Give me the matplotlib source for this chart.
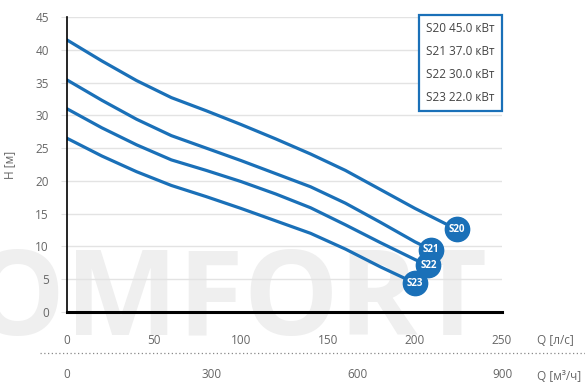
import matplotlib
matplotlib.use('Agg')
import matplotlib.pyplot as plt
from matplotlib.lines import Line2D

# Q [l/s] and H [m]
q_s20 = [0, 20, 40, 60, 80, 100, 120, 140, 160, 180, 200, 224]
h_s20 = [41.5, 38.3, 35.3, 32.7, 30.7, 28.6, 26.4, 24.1, 21.6, 18.7, 15.8, 12.6]
q_s21 = [0, 20, 40, 60, 80, 100, 120, 140, 160, 180, 200, 209.2]
h_s21 = [35.4, 32.3, 29.4, 26.9, 25.0, 23.1, 21.1, 19.1, 16.6, 13.7, 10.7, 9.5]
q_s22 = [0, 20, 40, 60, 80, 100, 120, 140, 160, 180, 200, 207.7]
h_s22 = [31.0, 28.1, 25.5, 23.2, 21.6, 19.9, 18.0, 15.9, 13.3, 10.6, 8.0, 7.1]
q_s23 = [0, 20, 40, 60, 80, 100, 120, 140, 160, 180, 200]
h_s23 = [26.5, 23.8, 21.4, 19.3, 17.6, 15.8, 13.9, 12.0, 9.6, 6.9, 4.4]

names = ['S20', 'S21', 'S22', 'S23']
powers = ['45.0 кВт', '37.0 кВт', '30.0 кВт', '22.0 кВт']
curves = [(q_s20, h_s20), (q_s21, h_s21), (q_s22, h_s22), (q_s23, h_s23)]

y_ticks = list(range(0, 46, 5))
x_ticks = [0, 50, 100, 150, 200, 250]
x2_ticks = [0, 300, 600, 900]

blue = '#1a70b8'
grey = '#666666'

plt.rcParams['font.family'] = ['Open Sans', 'DejaVu Sans']

fig = plt.figure(figsize=(5.85, 3.85), dpi=100)
ax = fig.add_axes([67 / 585, 1 - 312 / 385, 435 / 585, 295 / 385])
ax.set_facecolor('none')

# watermark
fig.text(-30 / 585, 1 - 335 / 385, 'OMFORT', fontsize=86, fontweight='bold',
         color='#efefef', ha='left', va='baseline', zorder=-10)

lines = []
for (q, h), name, pw in zip(curves, names, powers):
    ln, = ax.plot(q, h, color=blue, lw=2.3, solid_capstyle='round',
                  solid_joinstyle='round', label=f'{name} {pw}', zorder=3)
    lines.append(ln)
    ax.plot(q[-1], h[-1], 'o', ms=17.5, color=blue, zorder=4)
    ax.text(q[-1], h[-1], name, color='white', fontsize=7, fontweight='bold',
            ha='center', va='center', zorder=5)

ax.set_xlim(0, 250)
ax.set_ylim(0, 45)
ax.set_yticks(y_ticks)
ax.set_xticks(x_ticks)
ax.grid(axis='y', color='#e3e3e3', lw=1)
ax.set_axisbelow(True)

for s in ['top', 'right']:
    ax.spines[s].set_visible(False)
ax.spines['left'].set_color('black')
ax.spines['left'].set_linewidth(1.2)
ax.spines['bottom'].set_color('black')
ax.spines['bottom'].set_linewidth(2.2)
ax.spines['left'].set_zorder(6)
ax.spines['bottom'].set_zorder(6)

ax.tick_params(axis='y', length=4, color='#e3e3e3', pad=9, labelsize=8.5, labelcolor=grey)
ax.tick_params(axis='x', length=0, pad=16, labelsize=8.5, labelcolor=grey)
ax.set_ylabel('H [м]', fontsize=8.5, color=grey, labelpad=14)

# second Q axis in m3/h
sec = ax.secondary_xaxis(-0.18, functions=(lambda x: x * 3.6, lambda x: x / 3.6))
sec.set_xticks(x2_ticks)
sec.tick_params(length=0, pad=2, labelsize=8.5, labelcolor=grey)
sec.spines['bottom'].set_visible(False)

fig.text(537 / 585, 1 - 340 / 385, 'Q [л/с]', fontsize=8.5, color=grey, va='center')
fig.text(537 / 585, 1 - 377 / 385, 'Q [м³/ч]', fontsize=8.5, color=grey, va='center')
fig.add_artist(Line2D([40 / 585, 1], [1 - 353 / 385] * 2, transform=fig.transFigure,
                      color='#888888', lw=0.9, ls=(0, (1, 2))))

leg = ax.legend(handles=lines, loc='upper right',
                bbox_to_anchor=(502 / 585, 1 - 15 / 385), bbox_transform=fig.transFigure,
                borderaxespad=0, fancybox=False, handlelength=0, handletextpad=0,
                fontsize=8.5, labelspacing=0.85, borderpad=0.6, framealpha=1)
leg.get_frame().set_edgecolor(blue)
leg.get_frame().set_linewidth(1.6)
for h in leg.legend_handles:
    h.set_visible(False)
for t in leg.get_texts():
    t.set_color('#444444')

fig.savefig('out.png', dpi=100)
